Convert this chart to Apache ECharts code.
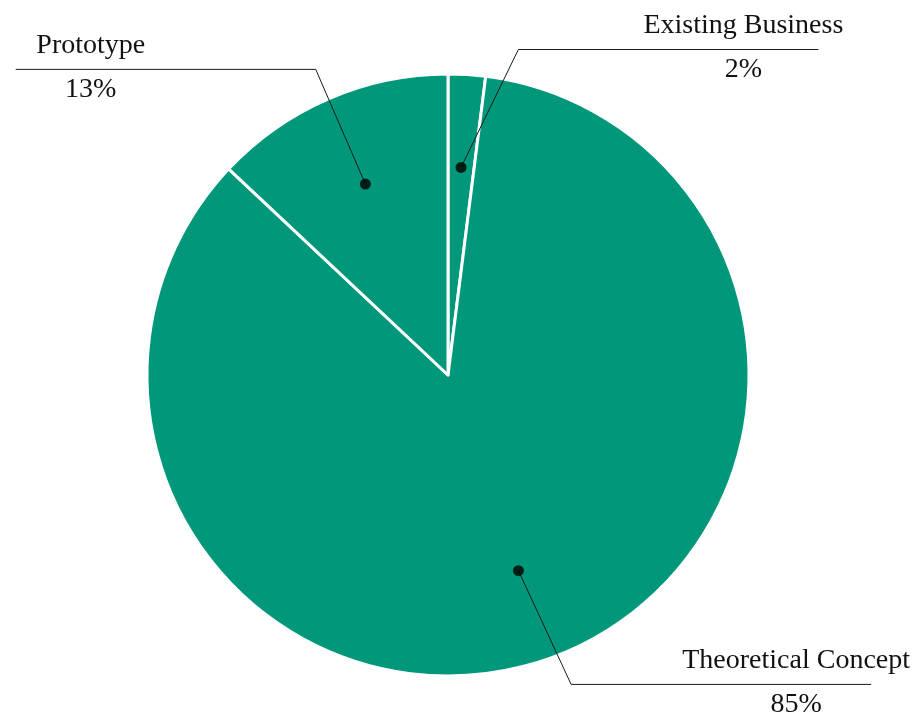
<!DOCTYPE html>
<html>
<head>
<meta charset="utf-8">
<script src="https://cdn.jsdelivr.net/npm/echarts@6/dist/echarts.min.js"></script>
<style>html,body{margin:0;padding:0;background:#fff}#c{width:920px;height:715px}</style>
</head>
<body>
<div id="c"></div>
<script>
const categories = ['Existing Business', 'Theoretical Concept', 'Prototype'];
const values = [2, 85, 13];
// small angular nudges (degrees) of the label leader bends, as in the original
const bendShift = [8.6, -1.9, 0];

const CX = 448, CY = 375, R = 301, DOT_R = 208, BEND_R = 333, ARM = 300, TEXT_OFF = 75;
const FONT = '"Liberation Serif", "DejaVu Serif", serif';
const COLOR = '#00977A';

const total = values.reduce((a, b) => a + b, 0);
let cum = 0;
const mids = values.map(v => { const m = cum + v / 2; cum += v; return m / total * 100; });

function polarPt(pct, r, shiftDeg) {
  const a = (pct / 100 * 360 + (shiftDeg || 0)) * Math.PI / 180;
  return [CX + r * Math.sin(a), CY - r * Math.cos(a)];
}

const chart = echarts.init(document.getElementById('c'));
chart.setOption({
  animation: false,
  backgroundColor: '#ffffff',
  polar: { center: [CX, CY], radius: R },
  angleAxis: { type: 'value', min: 0, max: 100, startAngle: 90, clockwise: true, show: false },
  radiusAxis: { type: 'value', min: 0, max: R, show: false },
  series: [
    {
      type: 'pie',
      center: [CX, CY],
      radius: [0, R],
      startAngle: 90,
      clockwise: true,
      silent: true,
      label: { show: false },
      labelLine: { show: false },
      itemStyle: { color: COLOR, borderColor: '#ffffff', borderWidth: 3 },
      data: categories.map((c, i) => ({ name: c, value: values[i] }))
    },
    {
      type: 'pie',
      center: [CX, CY],
      radius: [0, DOT_R],
      startAngle: 90,
      clockwise: true,
      silent: true,
      avoidLabelOverlap: false,
      z: 5,
      itemStyle: { color: 'rgba(0,0,0,0)' },
      label: {
        show: true,
        position: 'outside',
        overflow: 'none',
        formatter: p => '{n|' + p.name + '}\n{v|' + p.value + '%}',
        rich: {
          n: { fontFamily: FONT, fontSize: 28, color: '#111', lineHeight: 44, align: 'center' },
          v: { fontFamily: FONT, fontSize: 28, color: '#111', lineHeight: 44, align: 'center' }
        }
      },
      labelLine: { show: true, length: 125, length2: ARM, smooth: false, lineStyle: { color: '#1a1a1a', width: 1 } },
      labelLayout: function (params) {
        const i = params.dataIndex;
        const dot = polarPt(mids[i], DOT_R, 0);
        const bend = polarPt(mids[i], BEND_R, bendShift[i]);
        const dir = bend[0] >= CX ? 1 : -1;
        const end = [bend[0] + dir * ARM, bend[1]];
        return {
          x: end[0] - dir * TEXT_OFF,
          y: end[1] - 2,
          align: 'center',
          verticalAlign: 'middle',
          labelLinePoints: [dot, bend, end]
        };
      },
      data: categories.map((c, i) => ({ name: c, value: values[i] }))
    },
    {
      type: 'scatter',
      coordinateSystem: 'polar',
      symbol: 'circle',
      symbolSize: 11,
      z: 10,
      silent: true,
      itemStyle: { color: '#000' },
      data: mids.map(m => [DOT_R, m])
    }
  ]
});
</script>
</body>
</html>
